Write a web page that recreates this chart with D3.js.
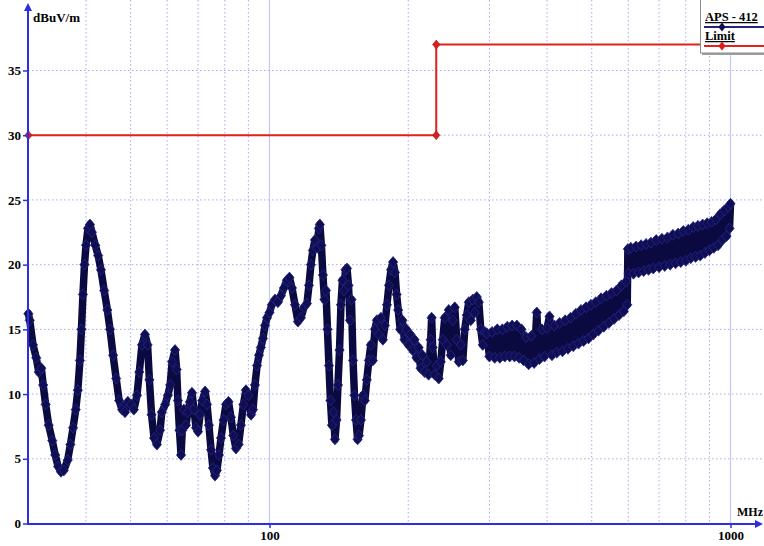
<!DOCTYPE html>
<html><head><meta charset="utf-8">
<script src="https://cdn.jsdelivr.net/npm/d3@7"></script>
<style>body{margin:0;background:#fff}svg{display:block}</style>
</head><body><svg id="c" width="764" height="546"></svg>
<script>
// ---- data ----
const freqMHz = [
30.0,30.2,30.7,31.2,31.6,32.0,32.3,32.7,33.2,33.8,34.3,34.8,35.3,35.8,36.5,37.0,37.5,38.0,38.4,38.8,
39.1,39.4,39.7,40.0,40.4,40.8,41.2,41.9,42.5,43.1,43.8,44.5,45.1,45.8,46.5,47.2,47.9,48.6,49.3,50.1,
50.8,51.6,52.2,52.9,53.7,54.4,54.9,55.5,56.2,57.0,57.9,58.4,59.4,60.2,60.9,61.5,62.4,62.9,63.3,63.8,
64.3,64.7,65.2,65.9,66.5,67.2,67.9,68.6,69.3,70.0,70.7,71.5,72.5,73.2,73.9,74.7,75.4,76.2,76.9,77.7,
78.5,79.5,80.5,81.5,82.5,83.5,84.6,85.7,86.7,87.8,88.9,90.0,91.2,92.1,93.0,94.0,94.9,95.8,96.8,97.8,
98.8,100.0,101.2,102.8,104.3,105.9,107.5,109.1,110.5,111.9,113.6,115.3,117.0,118.8,120.6,121.8,123.0,124.2,125.5,126.8,
128.0,128.6,129.6,130.6,131.6,132.6,133.6,134.6,135.6,136.6,137.7,138.7,139.8,140.8,141.9,142.9,144.0,145.1,146.2,147.3,
148.4,149.5,150.6,151.8,152.9,154.1,155.3,156.4,157.9,159.5,161.0,162.6,164.3,165.9,167.6,169.3,171.0,172.7,174.5,176.2,
178.0,179.8,181.6,183.5,185.4,187.2,188.7,190.2,192.1,194.2,196.2,198.2,200.2,202.2,204.3,206.4,208.4,210.6,212.7,214.8,
217.0,219.2,221.4,223.7,224.8,225.9,228.2,230.6,232.9,235.3,237.6,240.0,242.4,244.9,247.3,249.8,252.3,254.8,257.4,260.0,
262.6,265.2,267.9,270.6,273.3,276.1,278.8,281.6,284.5,287.3,290.2,293.1,
296,300,304,308,312,316,320,324,328,332,336,340,344,348,352,356,360,365,370,375,
380,385,390,395,400,405,410,415,420,426,432,438,444,450,456,462,468,474,480,486,
492,498,504,510,517,524,531,538,545,552,559,566,573,580,587,594,597,599,601,608,
616,624,632,640,648,656,664,672,680,690,700,710,720,730,740,750,760,770,780,790,
800,810,820,830,840,850,860,870,880,890,900,910,920,930,940,950,960,970,980,990,
995,1000
];
const levelDb = [
16.2,15.7,13.8,12.8,11.7,12.0,10.7,9.2,7.6,6.4,5.3,4.4,4.0,4.1,4.9,6.1,7.4,8.8,10.3,12.6,
15.0,17.7,20.0,21.5,22.8,23.1,22.5,21.5,20.7,19.6,18.0,16.5,15.0,13.0,11.2,9.5,8.8,8.6,9.4,9.2,
8.8,9.9,11.7,13.8,14.6,13.8,11.1,8.4,6.6,6.1,7.2,8.6,9.2,9.9,10.7,12.5,13.4,11.9,9.5,7.2,
5.3,7.2,8.8,7.6,8.6,9.4,10.1,8.8,7.4,7.1,8.4,9.5,10.2,9.2,7.6,5.7,4.3,3.7,4.1,5.3,
6.6,8.0,9.2,9.4,8.2,6.8,5.8,6.1,7.6,9.2,10.3,9.9,8.4,8.8,10.7,12.2,13.0,13.6,14.3,15.3,
15.9,16.3,16.9,17.3,17.1,17.6,18.2,18.8,19.0,18.2,16.9,15.6,15.9,16.7,17.0,18.4,20.0,21.1,21.9,21.3,
22.8,23.1,21.5,19.2,17.3,18.0,15.0,12.2,9.5,7.6,8.6,6.5,8.0,10.7,13.4,16.9,18.8,18.0,19.6,19.7,
18.4,15.7,17.3,12.6,9.9,8.0,6.5,6.8,8.0,9.9,9.5,11.1,12.6,13.8,12.6,15.0,15.7,14.6,15.9,14.2,
15.3,16.9,18.4,19.6,20.2,19.4,17.7,16.5,15.0,15.7,14.2,15.0,13.8,14.6,13.4,14.2,12.8,13.6,12.0,13.0,
11.7,12.5,11.5,14.2,15.9,13.6,11.5,12.2,11.2,12.5,14.2,15.9,13.8,16.5,13.0,15.7,16.7,14.2,12.5,13.8,
12.6,15.0,16.1,17.1,15.7,17.3,16.3,17.5,17.1,15.0,13.8,14.8,
14.7,12.9,14.8,12.8,15.0,12.8,15.0,12.9,15.2,12.9,15.3,12.9,15.3,12.8,15.0,12.6,14.4,12.3,14.5,12.4,
16.3,12.7,15.0,12.9,15.1,16.0,13.0,15.3,13.2,15.5,13.3,15.7,13.5,15.9,13.7,16.2,13.9,16.5,14.1,16.7,
14.3,16.9,14.6,17.1,14.9,17.4,15.2,17.6,15.5,17.8,15.8,18.0,16.1,18.4,16.4,18.7,16.9,21.2,19.3,21.3,
19.3,21.4,19.4,21.5,19.5,21.6,19.6,21.7,19.7,21.9,19.8,22.0,19.9,22.1,20.0,22.3,20.1,22.4,20.2,22.6,
20.3,22.7,20.5,22.9,20.6,23.0,20.7,23.1,20.9,23.2,21.1,23.3,21.3,23.5,21.5,23.9,21.9,24.2,22.2,24.5,
22.8,24.7
];
const limitFreq = [30, 230, 230, 1000];
const limitDb = [30, 30, 37, 37];
const yTickValues = [0, 5, 10, 15, 20, 25, 30, 35];
const xTickValues = [100, 1000];
const xMinorGrid = [40, 50, 60, 70, 80, 90, 200, 300, 400, 500, 600, 700, 800, 900];
const legendNames = ["APS - 412", "Limit"];
const yUnit = "dBuV/m";
const xUnit = "MHz";

// ---- drawing ----
const svg = d3.select("#c");
const x = d3.scaleLog().domain([30, 1000]).range([28.4, 730.5]);
const y = d3.scaleLinear().domain([0, 35]).range([523.5, 70.5]);
const serif = "'Liberation Serif','Times New Roman',serif";
const axisBlue = "#2d2de6";
const gridCol = "#a9a9ef";

// grid
const g = svg.append("g");
g.selectAll("line.hg").data(yTickValues.filter(d => d > 0)).join("line")
  .attr("x1", 28).attr("x2", 764).attr("y1", d => y(d)).attr("y2", d => y(d))
  .attr("stroke", gridCol).attr("stroke-width", 1).attr("stroke-dasharray", "1.5,2.5");
g.selectAll("line.vg").data(xMinorGrid).join("line")
  .attr("x1", d => x(d)).attr("x2", d => x(d)).attr("y1", 0).attr("y2", 523)
  .attr("stroke", gridCol).attr("stroke-width", 1).attr("stroke-dasharray", "1.5,2.5");
g.selectAll("line.vm").data(xTickValues).join("line")
  .attr("x1", d => x(d)).attr("x2", d => x(d)).attr("y1", 0).attr("y2", 523)
  .attr("stroke", "#c6c6f3").attr("stroke-width", 1.2);

// limit line
const limPts = limitFreq.map((f, i) => [f, limitDb[i]]);
svg.append("path").datum(limPts)
  .attr("d", d3.line().x(d => x(d[0])).y(d => y(d[1])))
  .attr("fill", "none").attr("stroke", "#e0221e").attr("stroke-width", 2);
const diamond = "M0,-4.5L3.6,0L0,4.5L-3.6,0Z";
const bigDiamond = "M0,-5.5L4.6,0L0,5.5L-4.6,0Z";
svg.selectAll("path.lm").data(limPts).join("path")
  .attr("d", diamond).attr("transform", d => `translate(${x(d[0])},${y(d[1])})`)
  .attr("fill", "#d81e1e").attr("stroke", "#b01010").attr("stroke-width", 0.6);

// measurement trace
const pts = freqMHz.map((f, i) => [f, levelDb[i]]);
svg.append("path").datum(pts)
  .attr("d", d3.line().x(d => x(d[0])).y(d => y(d[1])))
  .attr("fill", "none").attr("stroke", "#0a0a40").attr("stroke-width", 7.5)
  .attr("stroke-linejoin", "round").attr("stroke-linecap", "round");
svg.selectAll("path.pm").data(pts).join("path")
  .attr("d", bigDiamond).attr("transform", d => `translate(${x(d[0])},${y(d[1])})`)
  .attr("fill", "#0e0e50").attr("stroke", "#26268e").attr("stroke-width", 0.8);

// axes
const yAxis = svg.append("g").attr("transform", "translate(28,0)")
  .call(d3.axisLeft(y).tickValues(yTickValues).tickSize(5).tickPadding(2).tickFormat(d3.format("d")));
const xAxis = svg.append("g").attr("transform", "translate(0,524)")
  .call(d3.axisBottom(x).tickValues(xTickValues).tickSize(4).tickPadding(3).tickFormat(d3.format("d")));
[yAxis, xAxis].forEach(a => {
  a.select(".domain").remove();
  a.selectAll(".tick line").attr("stroke", axisBlue).attr("stroke-width", 1.5);
  a.selectAll(".tick text").attr("font-family", serif).attr("font-weight", "bold")
    .attr("font-size", 13).attr("fill", "#000");
});
// axis lines with arrows
svg.append("line").attr("x1", 28).attr("x2", 28).attr("y1", 524).attr("y2", 8)
  .attr("stroke", axisBlue).attr("stroke-width", 2);
svg.append("path").attr("d", "M28,3L24,11L32,11Z").attr("fill", axisBlue);
svg.append("line").attr("x1", 27).attr("x2", 757).attr("y1", 524).attr("y2", 524)
  .attr("stroke", axisBlue).attr("stroke-width", 2);
svg.append("path").attr("d", "M763,524L755,520L755,528Z").attr("fill", axisBlue);

svg.append("text").attr("x", 33).attr("y", 22).text(yUnit)
  .attr("font-family", serif).attr("font-weight", "bold").attr("font-size", 13);
svg.append("text").attr("x", 737).attr("y", 516).text(xUnit)
  .attr("font-family", serif).attr("font-weight", "bold").attr("font-size", 12);

// legend
const lg = svg.append("g");
lg.append("rect").attr("x", 702).attr("y", 0).attr("width", 70).attr("height", 55).attr("fill", "#a0a0a0");
lg.append("rect").attr("x", 700.5).attr("y", -1).attr("width", 70).attr("height", 54)
  .attr("fill", "#fff").attr("stroke", "#8c8c8c").attr("stroke-width", 1);
const legColors = ["#23237e", "#e0221e"];
const legMark = ["#0e0e52", "#d81e1e"];
legendNames.forEach((name, i) => {
  const ty = 21 + i * 19;
  lg.append("text").attr("x", 705).attr("y", ty).text(name)
    .attr("font-family", serif).attr("font-weight", "bold").attr("font-size", 12.5)
    .attr("text-decoration", "underline").attr("fill", "#000");
  lg.append("line").attr("x1", 704).attr("x2", 764).attr("y1", ty + 6).attr("y2", ty + 6)
    .attr("stroke", legColors[i]).attr("stroke-width", 2);
  lg.append("path").attr("d", diamond).attr("transform", `translate(722,${ty + 6})`)
    .attr("fill", legMark[i]);
});
</script>
</body></html>
